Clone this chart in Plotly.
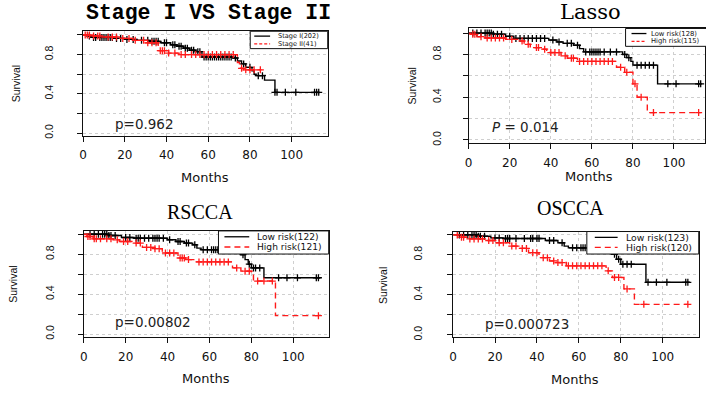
import numpy as np
import plotly.graph_objects as go

W, H = 706, 393

# ---------------- data ----------------
titles = ["Stage I VS Stage II", "Lasso", "RSCCA", "OSCCA"]
pvalues = ["p=0.962", "<i>P</i> = 0.014", "p=0.00802", "p=0.000723"]
legend_labels = [["Stage I(202)", "Stage II(41)"],
                 ["Low risk(128)", "High risk(115)"],
                 ["Low risk(122)", "High risk(121)"],
                 ["Low risk(123)", "High risk(120)"]]
x_ticks = [0, 20, 40, 60, 80, 100]
y_ticks = [0.0, 0.2, 0.4, 0.6, 0.8, 1.0]
y_ticktext = ["0.0", "", "0.4", "", "0.8", ""]

# Panel 1: Stage I (black) / Stage II (red)
p1_a_t = [0, 2, 5, 15, 20, 26, 32, 37, 42, 45, 48, 51, 54, 57, 72, 74, 76, 78, 81, 82, 83, 87, 92, 113]
p1_a_s = [1.0, 0.99, 0.975, 0.965, 0.955, 0.945, 0.935, 0.92, 0.90, 0.885, 0.865, 0.845, 0.83, 0.775,
          0.765, 0.735, 0.705, 0.67, 0.635, 0.60, 0.585, 0.54, 0.415, 0.415]
p1_a_c = [3, 5, 6, 8, 9, 10, 11, 12, 13, 14, 16, 18, 21, 24, 28, 31, 33, 34, 35, 36, 39, 40, 43, 44,
          46, 47, 49, 50, 52, 53, 55, 56, 58, 59, 60, 61, 62, 63, 64, 65, 66, 67, 68, 69, 70, 71,
          73, 77, 80, 84, 86, 92, 93, 97, 102, 111, 112, 113]
p1_b_t = [0, 4, 9, 17, 24, 30, 36, 41, 46, 74, 75, 77, 85.5]
p1_b_s = [1.0, 0.99, 0.98, 0.965, 0.945, 0.92, 0.84, 0.815, 0.80, 0.72, 0.66, 0.645, 0.645]
p1_b_c = [1, 2, 3, 5, 7, 8, 12, 14, 16, 19, 22, 25, 29, 31, 33, 35, 37, 38, 39, 41, 44, 47, 49, 52,
          54, 56, 58, 60, 62, 64, 66, 68, 70, 72, 76, 78, 80, 82, 85]

# Panel 2: Lasso
p2_a_t = [0, 12, 18, 22, 39, 43, 46, 51, 54, 56, 75, 77, 79, 80, 92, 113]
p2_a_s = [1.0, 0.99, 0.97, 0.95, 0.935, 0.917, 0.904, 0.886, 0.855, 0.824, 0.80, 0.77, 0.735, 0.70,
          0.525, 0.525]
p2_a_c = [2, 4, 6, 8, 9, 10, 11, 12, 14, 16, 20, 23, 25, 27, 29, 31, 33, 35, 37, 41, 44, 48, 50, 53,
          57, 59, 60, 61, 62, 63, 64, 66, 69, 72, 76, 78, 82, 84, 86, 88, 90, 97, 101, 112, 113]
p2_b_t = [0, 1, 4, 8, 18, 24, 27, 30, 35, 38, 45, 48, 53, 72, 76, 80, 82, 87, 113]
p2_b_s = [1.0, 0.988, 0.966, 0.954, 0.941, 0.926, 0.895, 0.864, 0.849, 0.818, 0.787, 0.765, 0.735,
          0.68, 0.633, 0.525, 0.40, 0.256, 0.256]
p2_b_c = [2, 3, 6, 9, 11, 13, 15, 17, 21, 26, 29, 33, 34, 37, 40, 42, 44, 47, 50, 51, 54, 56, 58,
          60, 62, 64, 66, 68, 70, 74, 77, 81, 84, 90, 112]

# Panel 3: RSCCA
p3_a_t = [0, 12, 18, 24, 40, 44, 48, 52, 54, 56, 75, 77, 78.5, 80, 86, 113]
p3_a_s = [1.0, 0.987, 0.967, 0.96, 0.944, 0.927, 0.911, 0.894, 0.861, 0.845, 0.795, 0.746, 0.70,
          0.663, 0.564, 0.564]
p3_a_c = [3, 5, 7, 9, 10, 11, 12, 13, 15, 20, 22, 25, 26, 27, 29, 31, 33, 34, 35, 36, 38, 41, 45,
          46, 49, 50, 53, 57, 59, 61, 62, 63, 64, 66, 68, 70, 72, 74, 76, 79, 81, 82, 84, 93, 97,
          102, 111, 112]
p3_b_t = [0, 1.5, 4.5, 14, 17, 23, 28, 34, 37.5, 45, 49, 52.5, 71, 75, 80, 81, 91.5, 112]
p3_b_s = [1.0, 0.977, 0.954, 0.944, 0.927, 0.911, 0.868, 0.855, 0.812, 0.762, 0.746, 0.723, 0.663,
          0.63, 0.597, 0.531, 0.185, 0.185]
p3_b_c = [2, 3, 5, 6, 8, 11, 13, 16, 19, 21, 25, 27, 30, 32, 34, 36, 39, 41, 43, 46, 47, 48, 50,
          55, 57, 59, 61, 63, 65, 67, 69, 73, 77, 79, 83, 86, 90, 112]

# Panel 4: OSCCA
p4_a_t = [0, 12, 18, 24, 44, 50, 53, 55, 75.5, 78, 80, 92, 113]
p4_a_s = [1.0, 0.987, 0.97, 0.964, 0.944, 0.921, 0.888, 0.871, 0.805, 0.756, 0.706, 0.525, 0.525]
p4_a_c = [3, 5, 7, 9, 10, 11, 12, 13, 15, 20, 22, 25, 26, 27, 30, 34, 37, 38, 40, 41, 46, 48, 52,
          57, 59, 61, 62, 63, 65, 67, 69, 71, 73, 77, 79, 81, 83, 85, 93, 97, 102, 111, 112]
p4_b_t = [0, 3, 6.5, 16, 20.5, 27, 31.5, 36, 41, 46, 49, 54, 73, 76, 81.5, 86.5, 112]
p4_b_s = [1.0, 0.977, 0.96, 0.944, 0.921, 0.888, 0.865, 0.822, 0.772, 0.739, 0.723, 0.69, 0.64,
          0.574, 0.459, 0.304, 0.304]
p4_b_c = [2, 4, 5, 8, 10, 12, 14, 17, 19, 22, 24, 28, 30, 33, 35, 38, 40, 43, 45, 48, 50, 52, 55,
          57, 59, 61, 63, 65, 67, 69, 71, 74, 77, 79, 83, 91, 112]

series = [
    ((p1_a_t, p1_a_s, p1_a_c), (p1_b_t, p1_b_s, p1_b_c)),
    ((p2_a_t, p2_a_s, p2_a_c), (p2_b_t, p2_b_s, p2_b_c)),
    ((p3_a_t, p3_a_s, p3_a_c), (p3_b_t, p3_b_s, p3_b_c)),
    ((p4_a_t, p4_a_s, p4_a_c), (p4_b_t, p4_b_s, p4_b_c)),
]

# ---------------- layout (pixel geometry) ----------------
panels = [
    dict(box=(79.7, 326, 31.3, 137), xr=117.3, yr=(-0.030, 1.040),
         title=(206, 0, "Liberation Mono", 21.5, True, "top"), pv=(141, 125), months=(202, 178.5),
         surv=(12, 84), ystand=20,
         leg=dict(box=(248, 326, 31.5, 49), line=(252, 268), ly=(36.4, 44.2), tx=275, size=6.6,
                  dash="3px,2px")),
    dict(box=(468, 706, 28.7, 144.5), xr=115.1, yr=(-0.032, 1.043),
         title=(591, 12, "DejaVu Serif", 21, False, "middle"), pv=(525, 128), months=(589, 177.5),
         surv=(411, 87), ystand=17,
         leg=dict(box=(626, 710, 28.7, 46.7), line=(632, 647), ly=(33.8, 41.6), tx=651, size=6.8,
                  dash="3px,2px")),
    dict(box=(80.3, 327, 232.7, 340), xr=116.9, yr=(-0.033, 1.033),
         title=(197, 213.5, "Liberation Serif", 20, False, "middle"), pv=(150, 324),
         months=(203, 381), surv=(9, 286), ystand=20,
         leg=dict(box=(216, 327, 232.7, 256), line=(222, 247), ly=(238.6, 248.9), tx=254,
                  size=9.1, dash="6px,4px")),
    dict(box=(452.3, 699.7, 233.3, 340), xr=117.2, yr=(-0.027, 1.034),
         title=(571, 210, "Liberation Serif", 20, False, "middle"), pv=(527, 326),
         months=(575, 382), surv=(381, 288), ystand=21,
         leg=dict(box=(587, 699.7, 233.3, 256), line=(595, 618), ly=(239.2, 249.3), tx=625,
                  size=9.3, dash="6px,4px")),
]

def px(x):
    return x / W

def py(y):
    return 1 - y / H

BLACK = "#000000"
RED = "#ff1a1a"
colors = [BLACK, RED]

fig = go.Figure()
annotations = []
shapes = []

for i, (pan, ser) in enumerate(zip(panels, series)):
    k = "" if i == 0 else str(i + 1)
    xa, ya = "x" + k, "y" + k
    x0, x1, yt, yb = pan["box"]
    for j, (t, s, c) in enumerate(ser):
        t = np.asarray(t, float)
        s = np.asarray(s, float)
        c = np.asarray(c, float)
        idx = np.searchsorted(t, c, side="right") - 1
        cy = s[np.clip(idx, 0, len(s) - 1)]
        fig.add_trace(go.Scatter(
            x=t, y=s, mode="lines", xaxis=xa, yaxis=ya, showlegend=False,
            line=dict(shape="hv", color=colors[j], width=1.4,
                      dash="solid" if j == 0 else "6px,4px"),
            hoverinfo="skip"))
        fig.add_trace(go.Scatter(
            x=c, y=cy, mode="markers", xaxis=xa, yaxis=ya, showlegend=False,
            marker=dict(symbol="cross-thin", size=5, color=colors[j],
                        line=dict(color=colors[j], width=1.3)),
            hoverinfo="skip"))

    axis_common = dict(showline=True, mirror=True, linecolor="#111111", linewidth=1,
                       ticks="outside", ticklen=5, tickcolor="#111111", tickwidth=1,
                       showgrid=True, gridcolor="#cfcfcf", griddash="dot", gridwidth=1,
                       zeroline=False, fixedrange=True)
    fig.update_layout(**{
        "xaxis" + k: dict(domain=[px(x0), min(px(x1), 1.0)], range=[0, pan["xr"]], anchor=ya,
                          tickvals=x_ticks, ticktext=[str(v) for v in x_ticks],
                          tickfont=dict(family="DejaVu Sans", size=12, color="#111111"),
                          ticklabelstandoff=3, **axis_common),
        "yaxis" + k: dict(domain=[py(yb), py(yt)], range=list(pan["yr"]), anchor=xa,
                          tickvals=y_ticks, ticktext=y_ticktext, tickangle=-90,
                          tickfont=dict(family="Liberation Sans", size=10.5, color="#111111"),
                          ticklabelstandoff=pan["ystand"], **axis_common),
    })

    # title
    tx, ty, tf, ts, tb, tya = pan["title"]
    annotations.append(dict(x=px(tx), y=py(ty), xref="paper", yref="paper", showarrow=False,
                            xanchor="center", yanchor=tya, text=titles[i], borderpad=0,
                            font=dict(family=tf, size=ts, color="#000000",
                                      weight="bold" if tb else "normal")))
    # p value
    annotations.append(dict(x=px(pan["pv"][0]), y=py(pan["pv"][1]), xref="paper", yref="paper",
                            showarrow=False, xanchor="center", yanchor="middle", text=pvalues[i],
                            font=dict(family="DejaVu Sans", size=13.5, color="#222222")))
    # axis titles
    annotations.append(dict(x=px(pan["months"][0]), y=py(pan["months"][1]), xref="paper",
                            yref="paper", showarrow=False, xanchor="center", yanchor="middle",
                            text="Months", borderpad=0,
                            font=dict(family="DejaVu Sans", size=13, color="#111111")))
    annotations.append(dict(x=px(pan["surv"][0]), y=py(pan["surv"][1]), xref="paper",
                            yref="paper", showarrow=False, xanchor="center", yanchor="middle",
                            text="Survival", textangle=-90,
                            font=dict(family="Liberation Sans", size=10.5, color="#111111")))
    # legend
    lg = pan["leg"]
    bx0, bx1, by0, by1 = lg["box"]
    shapes.append(dict(type="rect", xref="paper", yref="paper", layer="above",
                       x0=px(bx0), x1=px(bx1), y0=py(by1), y1=py(by0),
                       fillcolor="white", line=dict(color="#111111", width=1)))
    for j in range(2):
        shapes.append(dict(type="line", xref="paper", yref="paper", layer="above",
                           x0=px(lg["line"][0]), x1=px(lg["line"][1]),
                           y0=py(lg["ly"][j]), y1=py(lg["ly"][j]),
                           line=dict(color=colors[j], width=1.3,
                                     dash="solid" if j == 0 else lg["dash"])))
        annotations.append(dict(x=px(lg["tx"]), y=py(lg["ly"][j]), xref="paper", yref="paper",
                                showarrow=False, xanchor="left", yanchor="middle",
                                text=legend_labels[i][j], borderpad=0,
                                font=dict(family="DejaVu Sans", size=lg["size"], color="#111111")))

fig.update_layout(width=W, height=H, margin=dict(l=0, r=0, t=0, b=0),
                  paper_bgcolor="white", plot_bgcolor="white", showlegend=False,
                  annotations=annotations, shapes=shapes)

fig.write_html("out.html", config={"displayModeBar": False, "staticPlot": True},
               post_script="document.body.style.margin='0px';document.body.style.overflow='hidden';")
